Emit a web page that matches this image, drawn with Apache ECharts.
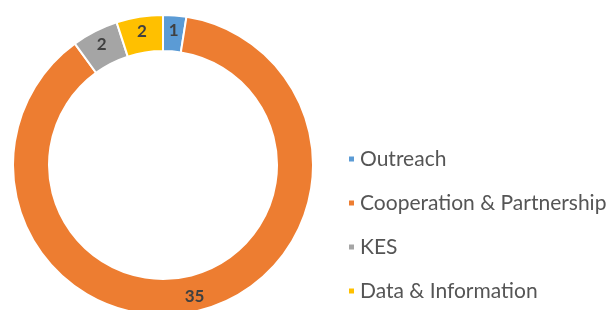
<!DOCTYPE html>
<html>
<head>
<meta charset="utf-8">
<script src="https://cdn.jsdelivr.net/npm/echarts@6/dist/echarts.min.js"></script>
<style>
  html, body { margin: 0; padding: 0; background: #fff; }
  #chart { width: 614px; height: 310px; }
</style>
</head>
<body>
<div id="chart"></div>
<script>
// chart data
const categories = ['Outreach', 'Cooperation & Partnership', 'KES', 'Data & Information'];
const values = [1, 35, 2, 2];
const colors = ['#5B9BD5', '#ED7D31', '#A5A5A5', '#FFC000'];

const chart = echarts.init(document.getElementById('chart'));

const option = {
    animation: false,
    color: colors,
    legend: {
        orient: 'vertical',
        left: 342,
        top: 143,
        icon: 'rect',
        itemWidth: 7,
        itemHeight: 7,
        itemGap: 22,
        data: categories,
        textStyle: {
            fontFamily: 'Lato',
            fontSize: 21,
            color: '#555555',
            lineHeight: 22
        }
    },
    series: [
        {
            type: 'pie',
            center: [163, 165],
            radius: [114, 150],
            startAngle: 90,
            clockwise: true,
            itemStyle: { borderColor: '#fff', borderWidth: 2 },
            label: {
                show: true,
                position: 'inside',
                formatter: '{c}',
                fontFamily: 'Lato',
                fontSize: 17,
                fontWeight: 'bold',
                color: '#404040'
            },
            labelLine: { show: false },
            data: categories.map((name, i) => ({ name: name, value: values[i] }))
        }
    ]
};

chart.setOption(option);
</script>
</body>
</html>
